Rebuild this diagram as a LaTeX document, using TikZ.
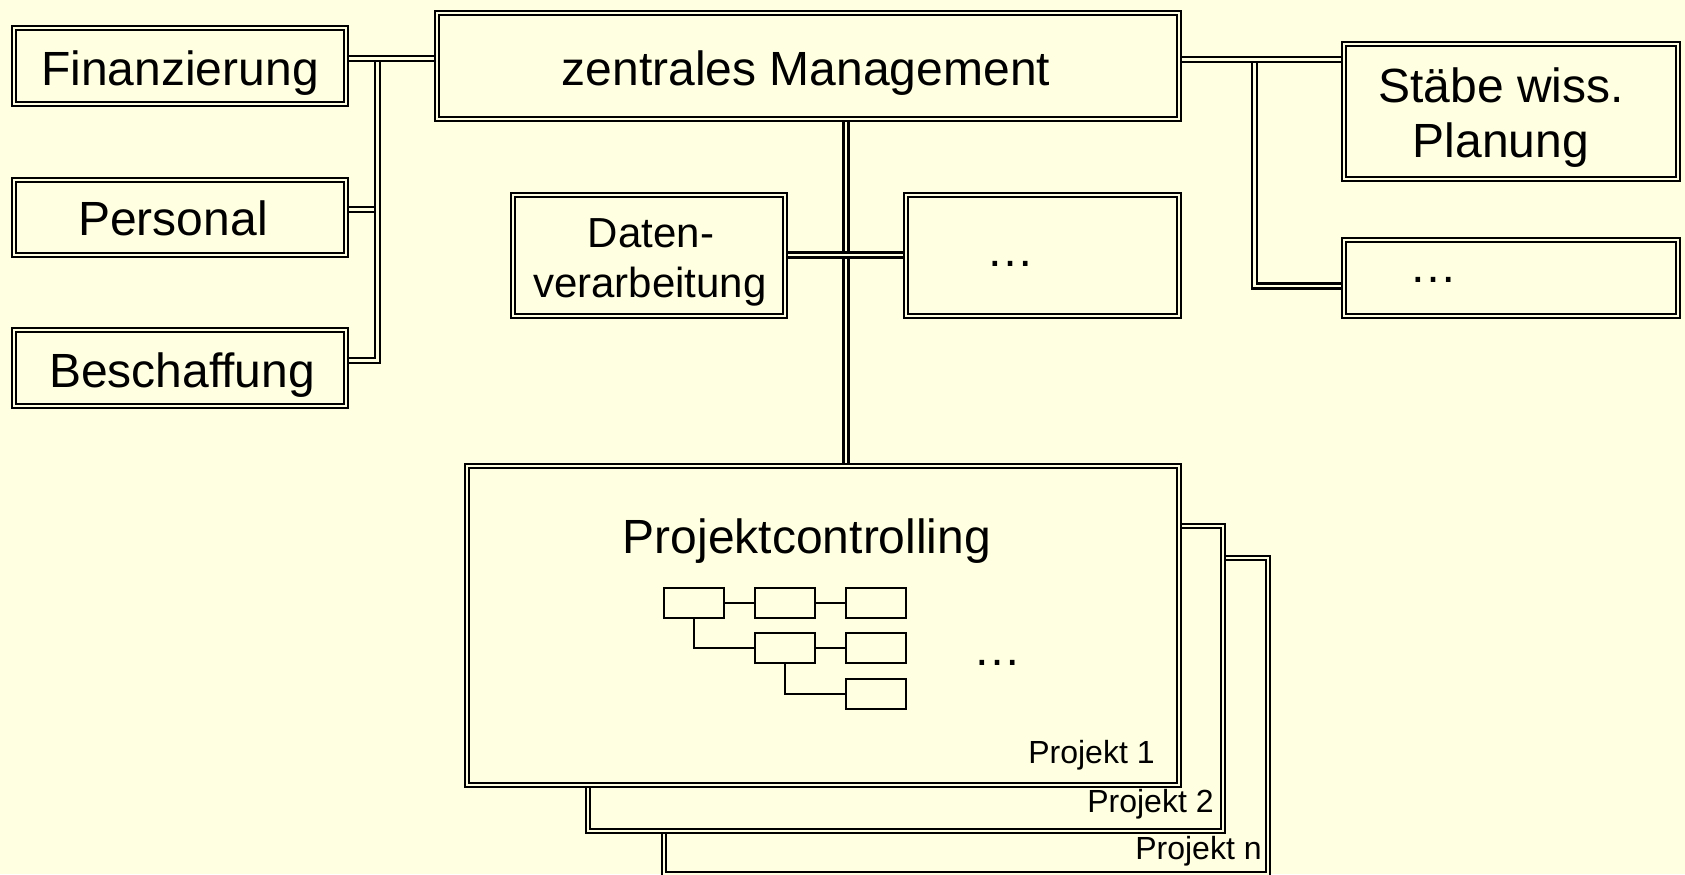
\documentclass[tikz,border=0pt]{standalone}
\usepackage{fontspec}
\setmainfont{Liberation Sans}
\definecolor{paper}{RGB}{255,255,225}
\pgfdeclarelayer{back}
\pgfsetlayers{back,main}

\begin{document}
\begin{tikzpicture}[x=0.5pt,y=-0.5pt,
  box/.style={draw=black, line width=1.1pt, double=paper, double distance=0.9pt,
              fill=paper, inner sep=0pt, outer sep=0pt},
  link/.style={draw=black, line width=1.15pt, double=paper, double distance=1.3pt},
  cell/.style={draw=black, line width=0.6pt, fill=paper, inner sep=0pt,
               minimum width=30pt, minimum height=15pt},
  tie/.style={draw=black, line width=0.6pt},
  big/.style={font=\fontsize{24}{28}\selectfont, anchor=base, inner sep=0pt},
  mid/.style={font=\fontsize{21}{25}\selectfont, anchor=base, inner sep=0pt},
  small/.style={font=\fontsize{16}{19}\selectfont, anchor=base east, inner sep=0pt},
]
\useasboundingbox (0,0) rectangle (1685,874);

% organisation units
\node[box, minimum width=166pt, minimum height=38pt]   (fin)   at (180,66) {};
\node[box, minimum width=166pt, minimum height=37.5pt] (pers)  at (180,217.5) {};
\node[box, minimum width=166pt, minimum height=38pt]   (besch) at (180,368) {};
\node[box, minimum width=371pt, minimum height=53pt]   (zm)    at (808,66) {};
\node[box, minimum width=167pt, minimum height=67.5pt] (stb)   at (1511,111.5) {};
\node[box, minimum width=167pt, minimum height=38pt]   (rdots) at (1511,278) {};
\node[box, minimum width=136pt, minimum height=60.5pt] (daten) at (649,255.5) {};
\node[box, minimum width=136.5pt, minimum height=60.5pt] (mdots) at (1042.5,255.5) {};

% stack of project sheets, back to front
\node[box, minimum width=302pt, minimum height=158pt]   (pn) at (966,716) {};
\node[box, minimum width=317.5pt, minimum height=152.5pt] (p2) at (905.5,678.5) {};
\node[box, minimum width=356pt, minimum height=159.5pt] (pc) at (823,625.5) {};

% bus coordinates
\coordinate (lbus)  at (377.5,58.5);
\coordinate (ptap)  at (377.5,209.5);
\coordinate (lbend) at (377.5,360.5);
\coordinate (rbus)  at (1254.5,59.5);
\coordinate (rbend) at (1254.5,286);
\coordinate (cbus)  at (846,255);

\begin{pgfonlayer}{back}
  \fill[paper] (0,0) rectangle (1685,874);
  % left branch
  \draw[link] (pers.east |- ptap) -- (ptap);
  \draw[link] (besch.east |- lbend) -- (lbend) -- (lbus);
  \draw[link] (fin.east |- lbus) -- (zm.west |- lbus);
  % right branch
  \draw[link] (rdots.west |- rbend) -- (rbend) -- (rbus);
  \draw[link] (zm.east |- rbus) -- (stb.west |- rbus);
  % central line
  \draw[link] (zm.south -| cbus) -- (pc.north -| cbus);
  \draw[link] (daten.east |- cbus) -- (mdots.west |- cbus);
\end{pgfonlayer}

% labels
\node[big] (fin-t)   at (180,85)  {Finanzierung};
\node[big] (pers-t)  at (173,235) {Personal};
\node[big] (besch-t) at (182,387) {Beschaffung};
\node[big] (zm-t)    at (806,85)  {zentrales Management};
\node[big] (stb-t1)  at (1501,102) {Stäbe wiss.};
\node[big] (stb-t2)  at (1501,157) {Planung};
\node[mid] (dat-t1)  at (651,247) {Daten-};
\node[mid] (dat-t2)  at (650,297) {verarbeitung};
\node[big] (md-t)    at (1010,266) {…};
\node[big] (rd-t)    at (1433,282) {…};

% project controlling sheet
\node[big] (pc-t) at (807,553) {Projektcontrolling};
\node[big] (pc-d) at (997,665) {…};
\node[small] (p1-t) at (1155,763) {Projekt 1};
\node[small] (p2-t) at (1214,812) {Projekt 2};
\node[small] (pn-t) at (1262,859) {Projekt n};

% small structure chart
\node[cell] (c1) at (694,603) {};
\node[cell] (c2) at (785,603) {};
\node[cell] (c3) at (876,603) {};
\node[cell] (c4) at (785,648) {};
\node[cell] (c5) at (876,648) {};
\node[cell] (c6) at (876,694) {};
\draw[tie] (c1.east) -- (c2.west);
\draw[tie] (c2.east) -- (c3.west);
\draw[tie] (c1.south) |- (c4.west);
\draw[tie] (c4.east) -- (c5.west);
\draw[tie] (c4.south) |- (c6.west);
\end{tikzpicture}
\end{document}
